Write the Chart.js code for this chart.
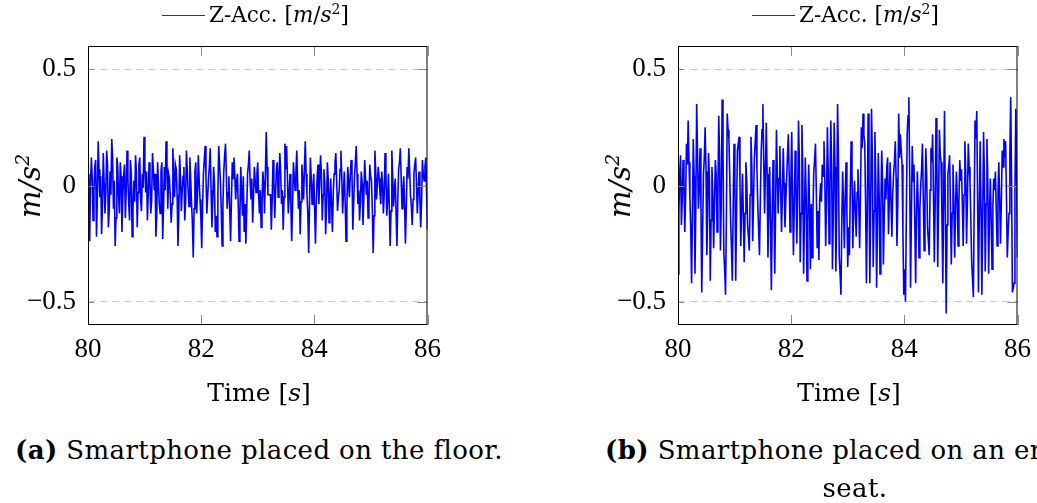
<!DOCTYPE html>
<html>
<head>
<meta charset="utf-8">
<script src="https://cdn.jsdelivr.net/npm/chart.js@4.4.1/dist/chart.umd.min.js"></script>
<style>
  html,body{margin:0;padding:0;background:#fff;width:1037px;height:503px;overflow:hidden;}
  body{position:relative;font-family:"DejaVu Serif",serif;color:#000;}
  .fig{position:absolute;top:0;width:450px;height:503px;}
  .fig canvas{position:absolute;left:0;top:0;}
  .leg{position:absolute;top:4px;left:162px;font-size:21.5px;line-height:22px;white-space:nowrap;}
  .leg .ln{display:inline-block;width:43px;height:1px;background:#1f1fff;vertical-align:middle;margin-right:4px;position:relative;top:-1px;}
  .ylab{position:absolute;left:30px;top:186px;font-size:29px;font-style:italic;white-space:nowrap;transform:translate(-50%,-50%) rotate(-90deg);}
  .xlab{position:absolute;left:259px;top:392px;font-size:25px;white-space:nowrap;transform:translate(-50%,-50%);}
  .cap{position:absolute;font-size:26px;letter-spacing:0.4px;white-space:nowrap;line-height:34px;}
  i{font-style:italic;}
  sup{font-size:0.65em;line-height:0;}
</style>
</head>
<body>
<div class="fig" style="left:0">
  <canvas id="cA" width="450" height="420"></canvas>
  <div class="leg"><span class="ln"></span>Z-Acc. [<i>m</i>/<i>s</i><sup>2</sup>]</div>
  <div class="ylab">m/s<sup>2</sup></div>
  <div class="xlab">Time [<i>s</i>]</div>
  <div class="cap" style="left:15px;top:433px"><b>(a)</b> Smartphone placed on the floor.</div>
</div>
<div class="fig" style="left:590px">
  <canvas id="cB" width="450" height="420"></canvas>
  <div class="leg"><span class="ln"></span>Z-Acc. [<i>m</i>/<i>s</i><sup>2</sup>]</div>
  <div class="ylab">m/s<sup>2</sup></div>
  <div class="xlab">Time [<i>s</i>]</div>
  <div class="cap" style="left:15px;top:433px"><b>(b)</b> Smartphone placed on an empty</div>
  <div class="cap" style="left:265px;top:471px;transform:translateX(-50%)">seat.</div>
</div>
<script>
// sampling of the recordings
const T0 = 80, DT = 0.015;
const xTicks = [80, 82, 84, 86];
const yTicks = [-0.5, 0, 0.5];

// (a) smartphone on the floor
const floorAcc = [
  0.05,-0.08,-0.24,0.02,0.12,0.03,-0.15,-0.02,0.08,0.11,-0.22,-0.06,0.19,0.07,-0.05,0.04,-0.21,-0.09,0.14,0.01,
  -0.12,-0.03,0.15,0.09,-0.18,-0.11,0.06,-0.04,0.20,0.12,-0.10,0.02,-0.26,-0.14,0.12,0.08,-0.04,-0.12,0.10,0.04,
  -0.20,-0.05,0.04,0.09,-0.14,-0.02,0.15,0.03,-0.08,-0.15,0.11,0.05,-0.22,-0.10,0.02,-0.07,0.13,0.06,-0.18,-0.03,
  0.09,0.12,-0.06,-0.11,0.05,-0.01,0.21,0.08,-0.03,0.06,-0.15,-0.04,0.10,0.02,-0.12,-0.06,0.14,0.07,-0.02,0.05,
  -0.22,-0.13,0.10,0.01,-0.08,-0.12,0.06,0.10,-0.23,-0.09,0.08,-0.02,0.19,0.11,-0.10,0.05,0.03,-0.05,-0.16,-0.08,
  0.16,0.04,-0.05,0.09,0.07,-0.04,-0.26,-0.12,0.13,0.03,-0.11,-0.02,0.04,0.08,-0.15,-0.07,0.15,0.06,-0.02,-0.09,
  0.12,0.03,-0.08,-0.16,-0.31,-0.10,0.06,0.10,-0.12,-0.04,0.13,0.02,-0.06,-0.14,
  -0.27,-0.09,0.05,0.11,0.17,0.04,-0.12,-0.05,0.03,0.08,0.16,-0.02,-0.18,-0.07,0.08,0.01,-0.20,-0.13,-0.22,-0.04,
  0.17,0.09,0.02,-0.10,-0.26,-0.08,0.06,0.13,0.18,0.05,-0.10,-0.03,0.04,-0.11,-0.24,-0.06,0.10,0.03,0.12,0.04,
  -0.06,0.02,0.05,-0.08,-0.24,-0.12,0.08,-0.03,-0.13,0.04,-0.20,-0.08,-0.25,-0.11,0.05,0.09,0.15,0.02,-0.06,0.03,
  -0.16,-0.05,0.08,0.02,-0.03,0.05,0.10,-0.04,-0.12,-0.02,-0.18,-0.08,0.06,0.01,-0.12,0.05,0.23,0.08,-0.04,-0.04,
  -0.04,-0.04,-0.19,-0.06,0.11,0.02,-0.14,-0.03,0.07,0.10,-0.05,0.03,0.14,0.06,-0.08,-0.02,-0.19,-0.05,0.18,0.07,
  0.17,0.03,-0.12,-0.04,0.05,-0.08,-0.24,-0.09,0.10,0.04,-0.02,0.06,0.15,0.01,-0.10,-0.02,-0.21,-0.07,0.09,0.02,
  -0.06,0.08,0.19,0.05,-0.04,-0.12,-0.29,-0.08,0.12,0.03,-0.08,-0.01,0.05,-0.10,
  -0.25,-0.07,0.04,0.09,-0.08,0.02,0.13,0.05,-0.15,-0.04,0.07,0.01,-0.21,-0.10,0.10,0.03,-0.16,-0.06,0.03,-0.09,
  -0.20,-0.03,0.05,0.10,0.14,0.02,-0.11,-0.05,-0.02,0.07,0.15,0.04,-0.12,-0.03,0.06,-0.07,-0.24,-0.11,0.08,0.02,
  -0.05,0.04,0.11,0.06,-0.19,-0.08,0.04,0.10,0.17,0.05,-0.08,-0.02,-0.15,-0.06,0.06,0.01,-0.17,-0.05,0.11,0.03,
  -0.04,0.02,-0.14,-0.07,0.09,0.04,0.02,-0.10,-0.29,-0.13,0.15,0.06,-0.06,0.02,0.08,0.03,-0.03,-0.08,0.06,0.01,
  -0.12,-0.04,0.14,0.05,-0.13,-0.06,0.05,-0.09,-0.26,-0.11,0.15,0.04,-0.09,-0.02,0.03,-0.12,-0.26,-0.07,0.07,0.10,
  0.16,0.03,-0.10,-0.03,0.04,-0.08,-0.25,-0.10,0.08,0.03,0.16,0.06,-0.04,-0.09,-0.17,-0.06,0.05,0.09,0.12,0.01,
  -0.12,-0.03,0.06,-0.05,-0.18,-0.07,0.11,0.05,0.02,0.08,0.12,-0.03,-0.19
];

// (b) smartphone on an empty seat
const seatAcc = [
  -0.38,-0.12,0.05,0.13,-0.17,-0.06,0.11,0.02,-0.20,-0.04,0.18,0.09,0.28,0.10,-0.05,-0.18,-0.42,-0.13,0.20,0.04,
  -0.38,-0.09,0.35,0.14,-0.10,-0.02,0.16,-0.08,-0.46,-0.21,0.05,0.12,0.25,0.06,-0.30,-0.11,0.14,0.03,-0.41,-0.15,
  0.08,-0.04,-0.27,-0.08,0.11,0.05,-0.20,-0.06,0.30,0.12,-0.28,-0.07,0.37,0.16,-0.29,-0.36,-0.47,-0.14,0.31,0.24,
  0.20,0.04,-0.15,-0.27,-0.41,-0.10,0.18,0.03,-0.41,-0.12,0.15,0.18,0.21,0.02,-0.26,-0.09,0.05,-0.13,-0.33,-0.12,
  0.10,0.02,-0.17,-0.22,-0.28,-0.04,0.21,0.08,-0.24,-0.06,0.12,0.19,0.26,0.07,-0.08,-0.19,-0.30,-0.07,0.14,0.24,
  0.35,0.11,-0.12,0.06,0.27,0.05,-0.31,-0.10,0.08,-0.17,-0.45,-0.14,0.11,-0.06,-0.38,-0.10,0.24,0.06,-0.12,0.03,
  0.17,-0.02,-0.20,-0.04,0.16,0.01,-0.18,-0.07,0.03,0.13,0.22,0.05,-0.20,0.02,
  0.23,-0.04,-0.30,-0.09,0.15,0.03,-0.25,-0.06,0.28,0.10,-0.33,-0.12,0.26,0.07,-0.38,-0.14,0.12,-0.05,-0.41,-0.16,
  0.09,-0.10,-0.36,-0.08,-0.31,-0.12,0.06,0.11,0.18,-0.03,-0.27,-0.11,-0.32,-0.06,0.01,-0.07,0.09,0.04,0.19,0.02,
  -0.26,-0.08,0.25,0.06,-0.25,-0.03,0.28,0.09,-0.36,-0.12,0.27,0.08,-0.37,-0.11,0.35,0.13,-0.31,-0.38,-0.47,-0.15,
  0.06,-0.09,-0.27,-0.05,0.10,-0.11,-0.35,-0.18,-0.30,-0.02,0.19,0.05,-0.27,-0.09,0.02,-0.12,-0.22,-0.03,0.07,-0.08,
  -0.27,-0.04,0.25,0.16,0.31,0.22,0.18,-0.07,-0.42,-0.13,0.31,0.08,-0.42,-0.10,0.33,0.12,-0.35,-0.11,0.23,0.02,
  -0.44,-0.16,0.14,-0.05,-0.38,-0.12,0.15,0.03,-0.34,-0.14,0.03,-0.06,0.08,0.12,-0.21,-0.05,0.10,-0.08,-0.22,-0.04,
  0.05,0.10,0.19,0.03,-0.26,-0.07,0.31,0.12,0.22,0.15,0.09,-0.20,-0.47,-0.36,
  -0.50,-0.14,0.22,0.30,0.38,0.04,-0.44,-0.13,0.17,0.02,0.09,-0.16,-0.42,-0.12,0.06,-0.08,-0.31,-0.10,0.00,0.07,
  0.18,-0.05,-0.28,-0.09,0.16,0.04,-0.18,-0.24,-0.30,-0.02,0.16,0.10,0.22,-0.04,-0.33,-0.08,0.29,0.11,-0.35,-0.09,
  0.24,0.13,0.10,-0.14,-0.42,-0.06,0.32,-0.10,-0.55,-0.17,0.05,0.08,0.13,-0.09,-0.34,-0.12,0.09,-0.07,-0.31,-0.10,
  0.06,-0.05,-0.26,-0.07,0.11,0.02,0.07,-0.08,-0.26,-0.04,0.19,0.05,-0.25,-0.06,0.18,0.08,0.02,-0.14,-0.33,-0.40,
  -0.48,-0.09,0.28,0.20,0.32,-0.06,-0.46,-0.12,0.19,-0.10,-0.47,-0.15,0.23,0.04,-0.37,-0.08,0.20,0.02,-0.38,-0.12,
  0.03,-0.15,-0.36,-0.09,0.03,-0.02,0.06,-0.11,-0.26,-0.04,0.10,-0.07,-0.25,-0.06,0.15,0.08,0.20,0.12,0.19,-0.05,
  -0.31,-0.20,-0.12,0.14,0.38,0.02,-0.46,-0.44,-0.42,-0.03,0.33,0.06,-0.31
];

const tickFont = {family:'"Liberation Serif", serif', size:27};

// pgfplots-like box with inward ticks
const frame = {
  id:'frame',
  afterDatasetsDraw(c){
    const {ctx, chartArea:a, scales:{x,y}} = c;
    ctx.save();
    ctx.strokeStyle = '#8a8a8a'; ctx.lineWidth = 1;
    ctx.beginPath();
    xTicks.forEach(v=>{
      const px = Math.round(x.getPixelForValue(v)) + 0.5;
      ctx.moveTo(px, a.bottom); ctx.lineTo(px, a.bottom - 10);
      ctx.moveTo(px, a.top); ctx.lineTo(px, a.top + 10);
    });
    yTicks.forEach(v=>{
      const py = Math.round(y.getPixelForValue(v)) + 0.5;
      ctx.moveTo(a.left, py); ctx.lineTo(a.left + 6, py);
      ctx.moveTo(a.right, py); ctx.lineTo(a.right - 10, py);
    });
    ctx.stroke();
    ctx.strokeStyle = '#000';
    ctx.strokeRect(a.left + 0.5, a.top + 0.5, a.width - 1, a.height - 1);
    ctx.restore();
  }
};

function makeChart(id, vals){
  return new Chart(document.getElementById(id), {
    type:'line',
    data:{datasets:[{
      data: vals.map((v,i)=>({x: T0 + i*DT, y: v})),
      borderColor:'#0000ff', borderWidth:1.6, pointRadius:0, tension:0, fill:false
    }]},
    options:{
      responsive:false, animation:false,
      layout:{padding:{top:46, right:20, left:0, bottom:0}},
      plugins:{legend:{display:false}, tooltip:{enabled:false}},
      scales:{
        x:{
          type:'linear', min:80, max:86,
          afterBuildTicks:s=>{ s.ticks = xTicks.map(v=>({value:v})); },
          afterFit:s=>{ s.height = 95; },
          grid:{display:false, drawTicks:false},
          border:{display:false},
          ticks:{font:tickFont, color:'#000', padding:9, maxRotation:0, autoSkip:false}
        },
        y:{
          min:-0.6, max:0.6,
          afterBuildTicks:s=>{ s.ticks = yTicks.map(v=>({value:v})); },
          afterFit:s=>{ s.width = 88; },
          grid:{color:'#cccccc', lineWidth:1, drawTicks:false},
          border:{display:false, dash:[7,5]},
          ticks:{font:tickFont, color:'#000', padding:12,
            callback:v=>String(v).replace('-', '\u2212')}
        }
      }
    },
    plugins:[frame]
  });
}

makeChart('cA', floorAcc);
makeChart('cB', seatAcc);
</script>
</body>
</html>
